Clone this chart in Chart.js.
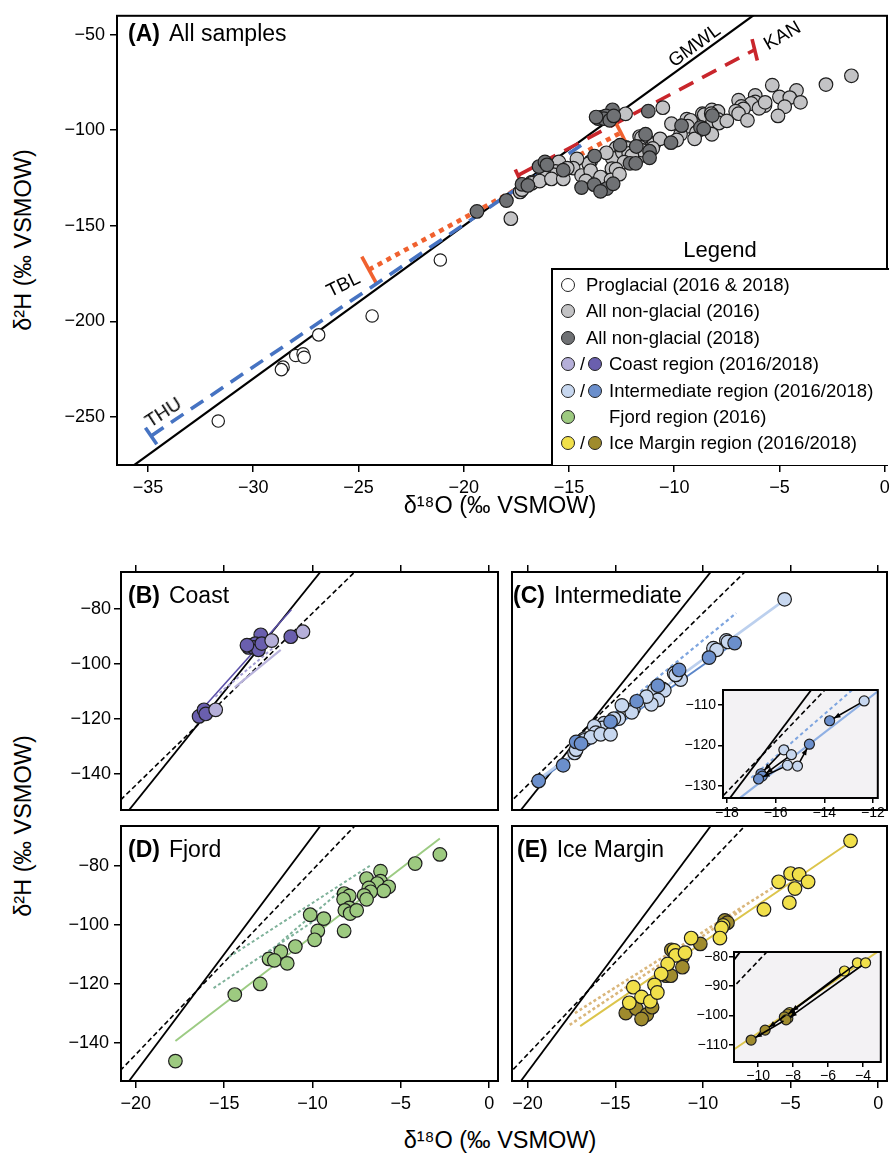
<!DOCTYPE html>
<html><head><meta charset="utf-8">
<script src="https://cdn.jsdelivr.net/npm/chart.js@4.4.1/dist/chart.umd.min.js"></script>
<style>
html,body{margin:0;padding:0;background:#fff;}
#wrap{position:relative;width:895px;height:1162px;overflow:hidden;font-family:"Liberation Sans",Arial,Helvetica,sans-serif;color:#000;}
.t{position:absolute;white-space:nowrap;line-height:1;z-index:10;}
.mk{position:absolute;width:14px;height:14px;border-radius:50%;border:1.3px solid #222;box-sizing:border-box;z-index:11;}
canvas{position:absolute;}
</style></head><body><div id="wrap"></div>
<script>
// ---------------- DATA ----------------
const proglacial = [[-31.66,-252.2],[-28.58,-224.0],[-28.66,-225.3],[-27.98,-217.9],[-27.63,-217.0],[-27.58,-218.8],[-26.89,-207.1],[-24.35,-197.2],[-21.11,-167.9]];

const coast2016 = [[-12.31,-91.4],[-10.54,-88.2],[-15.48,-116.6]];
const coast2018 = [[-12.93,-89.3],[-13.62,-93.9],[-13.43,-93.1],[-13.24,-92.5],[-13.34,-93.9],[-13.06,-94.8],[-12.87,-92.5],[-13.71,-93.1],[-16.42,-119.0],[-16.14,-116.6],[-16.04,-118.1],[-11.23,-90.0]];

const inter2016 = [[-5.34,-76.4],[-8.66,-91.35],[-8.57,-91.9],[-9.40,-94.2],[-9.22,-94.8],[-11.64,-103.3],[-11.27,-105.6],[-11.55,-103.9],[-12.76,-109.3],[-12.29,-109.0],[-12.20,-109.5],[-12.57,-113.0],[-12.94,-114.6],[-13.22,-111.8],[-13.97,-116.4],[-14.06,-117.5],[-14.62,-115.0],[-14.80,-119.8],[-15.08,-119.8],[-15.64,-121.5],[-15.74,-123.2],[-16.20,-122.6],[-16.11,-124.9],[-16.76,-127.1],[-17.32,-132.3],[-17.23,-131.1],[-16.76,-127.7],[-16.39,-126.6],[-15.83,-125.5],[-15.27,-125.5]];
const inter2018 = [[-8.19,-92.3],[-9.65,-97.6],[-11.36,-102.1],[-12.57,-107.8],[-13.78,-113.5],[-15.27,-120.9],[-17.23,-128.3],[-16.95,-128.9],[-17.97,-136.8],[-19.37,-142.5]];

const fjord2016 = [[-2.79,-76.1],[-4.19,-79.2],[-6.15,-81.8],[-6.94,-84.3],[-6.15,-85.2],[-6.34,-86.0],[-5.69,-87.1],[-5.97,-88.5],[-6.81,-87.5],[-6.71,-88.8],[-7.08,-90.0],[-6.94,-91.35],[-8.21,-89.4],[-7.92,-90.2],[-8.24,-91.35],[-7.92,-94.3],[-8.17,-95.1],[-7.87,-96.2],[-7.50,-95.1],[-8.21,-102.1],[-9.36,-97.9],[-10.13,-96.6],[-9.70,-102.1],[-9.88,-105.1],[-10.97,-107.4],[-11.79,-109.1],[-12.46,-111.6],[-12.16,-112.1],[-11.43,-113.1],[-12.96,-120.1],[-14.4,-123.7],[-17.76,-146.3]];

const ice2016 = [[-1.58,-71.5],[-5.0,-82.6],[-4.51,-82.9],[-4.0,-85.4],[-4.75,-87.7],[-5.68,-85.4],[-5.07,-92.5],[-6.52,-94.8],[-8.85,-100.2],[-8.94,-101.1],[-9.03,-104.5],[-10.67,-104.5],[-11.64,-108.7],[-11.55,-110.4],[-11.02,-109.5],[-12.01,-113.3],[-12.38,-116.7],[-13.97,-121.2],[-12.76,-120.4],[-13.5,-124.5],[-13.0,-126.0],[-12.6,-123.0],[-14.2,-126.5]];
const ice2018 = [[-8.75,-98.5],[-8.6,-99.3],[-10.15,-106.5],[-11.17,-111.0],[-11.8,-108.5],[-11.17,-114.4],[-12.1,-117.3],[-11.83,-117.3],[-14.4,-130.0],[-13.8,-128.5],[-13.2,-130.5],[-12.9,-128.0],[-13.5,-132.0]];

// insets: paired sites (2016 -> 2018)
const insetC2016 = [[-12.36,-109.0],[-15.66,-121.1],[-15.35,-122.3],[-15.51,-124.9],[-15.10,-125.1]];
const insetC2018 = [[-13.78,-113.9],[-16.60,-127.0],[-16.55,-127.6],[-16.70,-128.3],[-14.61,-119.7]];
const insetE2016 = [[-5.06,-84.8],[-4.32,-82.0],[-3.85,-82.0],[-8.2,-99.0],[-8.3,-101.0]];
const insetE2018 = [[-8.3,-99.5],[-8.5,-100.5],[-8.4,-101.5],[-9.6,-105.0],[-10.4,-108.4]];

// reference / regression lines (end points)
const gmwl = [[-40,-310],[2,26]];
const lmwl = [[-40,-269.2],[2,-6.3]];
const thuLine = [[-34.85,-260],[-14.3,-107]];
const thuCap = [[-35.12,-255.7],[-34.58,-264.3]];
const tblLine = [[-24.5,-173],[-12.5,-101]];
const tblCapL = [[-24.84,-166.1],[-24.16,-179.9]];
const tblCapR = [[-12.8,-95.5],[-12.3,-106.3]];
const kanLine = [[-17.4,-123.5],[-6.2,-58]];
const kanCapL = [[-17.55,-120.5],[-17.28,-127]];
const kanCapR = [[-6.3,-52.3],[-6.05,-63.5]];
const coastDark = [[-16.0,-114.6],[-11.2,-80.2]];
const coastLight = [[-14.4,-108.4],[-11.8,-94.8]];
const coastDot = [[-15.5,-111.8],[-12.2,-93.9]];
const interLight = [[-19.4,-142],[-5.3,-76.4]];
const interDark = [[-19.4,-142.5],[-8.2,-92.3]];
const interDot = [[-17.0,-128],[-8.1,-81.4]];
const fjordLine = [[-17.76,-139.5],[-2.79,-70.7]];
const fjordDot1 = [[-14.74,-111.0],[-6.71,-79.8]];
const fjordDot2 = [[-12.68,-110.4],[-8.39,-88.3]];
const fjordDot3 = [[-15.6,-121.5],[-9.5,-97]];
const iceLine = [[-17.0,-134.4],[-1.58,-71.8]];
const iceDot1 = [[-17.3,-130],[-5.8,-86.6]];
const iceDot2 = [[-17.6,-134],[-7.8,-95]];

const xTicksA = 5, yTicksA = 50, xTicksB = 5, yTicksB = 20;

// ---------------- COLOURS ----------------
const C = {
  pro:'#ffffff', ng16:'#c3c3c5', ng18:'#6f7174',
  co16:'#b5afd9', co18:'#6a5fae', in16:'#c7d7ef', in18:'#6b8fcc',
  fj16:'#9dca80', ic16:'#f1e04a', ic18:'#9f8b2d',
  thu:'#4673c2', tbl:'#f0612f', kan:'#c9262c'
};

Chart.defaults.font.family = '"Liberation Sans", Arial, Helvetica, sans-serif';
Chart.defaults.color = '#000';
const fmt = v => (v < 0 ? '\u2212' + Math.abs(v) : String(v));
const xy = a => a.map(p => ({x:p[0], y:p[1]}));
const wrap = document.getElementById('wrap');

function pts(arr, fill, r, order){ return {data:xy(arr), backgroundColor:fill, borderColor:'#1e1e1e', borderWidth:1.2, pointRadius:r||6.8, pointHoverRadius:r||6.8, showLine:false, order:order||1}; }
function ln(arr, color, w, dash, order){ return {data:xy(arr), borderColor:color, borderWidth:w, borderDash:dash||[], showLine:true, pointRadius:0, pointHoverRadius:0, fill:false, clip:0, order:order||5, borderCapStyle:'butt'}; }

function mkFrame(bg, lw){ return {id:'frame',
  beforeDatasetsDraw(c){ if(!bg) return; const a=c.chartArea, x=c.ctx; x.save(); x.fillStyle=bg; x.fillRect(a.left,a.top,a.right-a.left,a.bottom-a.top); x.restore(); },
  afterDraw(c){ const a=c.chartArea, x=c.ctx; x.save(); x.strokeStyle='#000'; x.lineWidth=lw||2; x.strokeRect(a.left,a.top,a.right-a.left,a.bottom-a.top); x.restore(); } }; }

function mkArrows(from, to, r){ return {id:'arrows', afterDatasetsDraw(c){
  const ctx=c.ctx, X=c.scales.x, Y=c.scales.y; ctx.save(); ctx.strokeStyle='#000'; ctx.fillStyle='#000'; ctx.lineWidth=1.6;
  from.forEach((p,i)=>{ const q=to[i];
    const x1=X.getPixelForValue(p[0]), y1=Y.getPixelForValue(p[1]), x2=X.getPixelForValue(q[0]), y2=Y.getPixelForValue(q[1]);
    const a=Math.atan2(y2-y1,x2-x1), ex=x2-Math.cos(a)*r, ey=y2-Math.sin(a)*r, sx=x1+Math.cos(a)*r, sy=y1+Math.sin(a)*r;
    ctx.beginPath(); ctx.moveTo(sx,sy); ctx.lineTo(ex,ey); ctx.stroke();
    const h=7; ctx.beginPath(); ctx.moveTo(ex,ey); ctx.lineTo(ex-h*Math.cos(a-0.38),ey-h*Math.sin(a-0.38)); ctx.lineTo(ex-h*Math.cos(a+0.38),ey-h*Math.sin(a+0.38)); ctx.closePath(); ctx.fill();
  }); ctx.restore(); }}; }

function panel(o){
  const r=o.rect, m=o.m;
  const cv=document.createElement('canvas');
  const W=r.r-r.l+m.l+m.r, H=r.b-r.t+m.t+m.b;
  cv.width=W; cv.height=H; cv.style.left=(r.l-m.l)+'px'; cv.style.top=(r.t-m.t)+'px'; cv.style.width=W+'px'; cv.style.height=H+'px'; cv.style.zIndex=o.z||1;
  wrap.appendChild(cv);
  const fs=o.fs||18;
  const tk=(step)=>({stepSize:step, includeBounds:false, autoSkip:false, maxRotation:0, minRotation:0, padding:o.tpad||3, font:{size:fs}, color:'#000', callback:fmt});
  const grid={display:true, drawOnChartArea:false, drawTicks:true, tickLength:o.tl||7, color:'#000', lineWidth:1.5};
  const scales={
    x:{type:'linear', position:'bottom', min:o.x[0], max:o.x[1], display:!!o.xLab, ticks:tk(o.xs), grid:grid, border:{display:false}, afterFit:s=>{s.height=m.b;}},
    y:{type:'linear', position:'left', min:o.y[0], max:o.y[1], display:!!o.yLab, ticks:tk(o.ys), grid:grid, border:{display:false}, afterFit:s=>{s.width=m.l;}}
  };
  if(o.top){ scales.x2={type:'linear', position:'top', min:o.x[0], max:o.x[1], ticks:Object.assign(tk(o.xs),{display:false}), grid:grid, border:{display:false}, afterFit:s=>{s.height=m.t;}}; }
  const pad={left:o.yLab?0:m.l, right:m.r, top:o.top?0:m.t, bottom:o.xLab?0:m.b};
  return new Chart(cv,{type:'scatter', data:{datasets:o.ds},
    options:{responsive:false, animation:false, devicePixelRatio:1, events:[], layout:{padding:pad},
      plugins:{legend:{display:false}, tooltip:{enabled:false}}, scales:scales},
    plugins:[mkFrame(o.bg,o.lw)].concat(o.extra||[])});
}

// ---------------- PANEL A ----------------
const all2016 = [].concat(coast2016, inter2016, fjord2016, ice2016);
const all2018 = [].concat(coast2018, inter2018, ice2018);
panel({rect:{l:117,t:13,r:889,b:465}, m:{l:60,t:13,r:6,b:34}, x:[-36.47,0.11], y:[-275.2,-40.1], xs:xTicksA, ys:yTicksA, xLab:true, yLab:true, tpad:5,
  ds:[
    pts(proglacial, C.pro, 6.2, 1), pts(all2018, C.ng18, 6.8, 2), pts(all2016, C.ng16, 6.8, 3),
    ln(gmwl,'#000',2.2,[],6),
    ln(thuLine,C.thu,3.6,[15,9],5), ln(thuCap,C.thu,3.6,[],5),
    ln(tblLine,C.tbl,4.6,[5,5],5), ln(tblCapL,C.tbl,3.6,[],5), ln(tblCapR,C.tbl,3.6,[],5),
    ln(kanLine,C.kan,3.6,[16,10],5), ln(kanCapL,C.kan,3.6,[],5), ln(kanCapR,C.kan,3.6,[],5)
  ]});

// ---------------- PANELS B-E ----------------
const XL=[-20.84,0.5], XR=[-20.89,0.5], YB=[-153.06,-66.45];
const base=()=>[ln(gmwl,'#000',1.8,[],7), ln(lmwl,'#000',1.6,[5,3],7)];
panel({rect:{l:121,t:572,r:502,b:826}, m:{l:60,t:16,r:4,b:16}, x:XL, y:YB, xs:xTicksB, ys:yTicksB, yLab:true, top:true,
  ds:base().concat([ln(coastLight,'#b9b3dc',2.2,[],6), ln(coastDot,'#a39dd2',2,[3,2.5],6), ln(coastDark,'#5b50a8',1.6,[],6),
    pts(coast2018,C.co18,6.8,2), pts(coast2016,C.co16,6.8,1)])});
panel({rect:{l:506,t:572,r:889,b:826}, m:{l:6,t:16,r:6,b:16}, x:XR, y:YB, xs:xTicksB, ys:yTicksB, top:true,
  ds:base().concat([ln(interLight,'#bcd0ee',2.6,[],6), ln(interDot,'#7ea5df',2.2,[3.5,3],6), ln(interDark,'#5b86c9',2,[],6),
    pts(inter2016,C.in16,6.8,2), pts(inter2018,C.in18,6.8,1)])});
panel({rect:{l:121,t:826,r:502,b:1081}, m:{l:60,t:16,r:4,b:34}, x:XL, y:YB, xs:xTicksB, ys:yTicksB, xLab:true, yLab:true, tpad:5,
  ds:base().concat([ln(fjordLine,'#9ccb83',2,[],6), ln(fjordDot1,'#7fb29a',2,[3,2.5],6), ln(fjordDot2,'#7fb29a',2,[3,2.5],6), ln(fjordDot3,'#7fb29a',2,[3,2.5],6),
    pts(fjord2016,C.fj16,6.8,1)])});
panel({rect:{l:506,t:826,r:889,b:1081}, m:{l:6,t:16,r:6,b:34}, x:XR, y:YB, xs:xTicksB, ys:yTicksB, xLab:true, tpad:5,
  ds:base().concat([ln(iceLine,'#dcc54c',2,[],6), ln(iceDot1,'#dab77c',2.6,[3,2.5],6), ln(iceDot2,'#dab77c',2.6,[3,2.5],6),
    pts(ice2018,C.ic18,6.8,2), pts(ice2016,C.ic16,6.8,1)])});

// ---------------- INSETS ----------------
panel({rect:{l:723,t:690,r:883,b:798}, m:{l:40,t:12,r:4,b:22}, x:[-18.16,-11.8], y:[-133.0,-106.3], xs:2, ys:10, xLab:true, yLab:true, fs:14, tl:5, tpad:2, bg:'#f3f2f4', lw:2, z:3,
  ds:base().concat([ln(interLight,'#8fb0e3',2.2,[],6), ln(interDot,'#7ea5df',2,[3.5,3],6),
    pts(insetC2016,C.in16,5,2), pts(insetC2018,C.in18,5,1)]), extra:[mkArrows(insetC2016,insetC2018,5)]});
panel({rect:{l:734,t:952,r:883,b:1062}, m:{l:40,t:12,r:4,b:20}, x:[-11.38,-2.98], y:[-115.9,-78.3], xs:2, ys:10, xLab:true, yLab:true, fs:14, tl:5, tpad:1, bg:'#f3f2f4', lw:2, z:3,
  ds:base().concat([ln(iceLine,'#dcc54c',2,[],6),
    pts(insetE2016,C.ic16,5,2), pts(insetE2018,C.ic18,5,1)]), extra:[mkArrows(insetE2016,insetE2018,5)]});

// ---------------- TEXT ----------------
function txt(html,x,y,size,anchor,rot){
  const d=document.createElement('div'); d.className='t'; d.innerHTML=html;
  d.style.fontSize=size+'px'; d.style.left=x+'px'; d.style.top=y+'px';
  const tx=anchor==='c'?'-50%':anchor==='r'?'-100%':'0';
  d.style.transform=`translate(${tx},-50%) rotate(${rot||0}deg)`;
  wrap.appendChild(d); return d;
}
const lab=(l,n)=>`<b>${l}</b><span style="margin-left:9px">${n}</span>`;
txt(lab('(A)','All samples'),128,33,23,'l');
txt(lab('(B)','Coast'),128,595,23,'l');
txt(lab('(C)','Intermediate'),513,595,23,'l');
txt(lab('(D)','Fjord'),128,849,23,'l');
txt(lab('(E)','Ice Margin'),517,849,23,'l');
txt('GMWL',694,45,19,'c',-36);
txt('KAN',782,35,19,'c',-30);
txt('TBL',343,284,19,'c',-26);
txt('THU',163,412,19,'c',-33);
txt('\u03b4\u00b9\u2078O (\u2030 VSMOW)',500,506,23.5,'c');
txt('\u03b4\u00b9\u2078O (\u2030 VSMOW)',500,1141,23.5,'c');
txt('\u03b4\u00b2H (\u2030 VSMOW)',24,240,23.5,'c',-90);
txt('\u03b4\u00b2H (\u2030 VSMOW)',24,826,23.5,'c',-90);

// legend
const lg=document.createElement('div');
lg.style.cssText='position:absolute;left:551px;top:268px;width:336px;height:195px;border-left:2px solid #000;border-top:2px solid #000;background:#fff;z-index:9;';
wrap.appendChild(lg);
txt('Legend',720,250,22,'c');
const legRows=[
  {m:[C.pro],t:'Proglacial (2016 &amp; 2018)'},
  {m:[C.ng16],t:'All non-glacial (2016)'},
  {m:[C.ng18],t:'All non-glacial (2018)'},
  {m:[C.co16,C.co18],t:'Coast region (2016/2018)'},
  {m:[C.in16,C.in18],t:'Intermediate region (2016/2018)'},
  {m:[C.fj16],t:'Fjord region (2016)', wide:true},
  {m:[C.ic16,C.ic18],t:'Ice Margin region (2016/2018)'}
];
legRows.forEach((r,i)=>{
  const y=285+i*26.4;
  const m1=document.createElement('div'); m1.className='mk'; m1.style.left=(568-7)+'px'; m1.style.top=(y-7)+'px'; m1.style.background=r.m[0]; wrap.appendChild(m1);
  let tx=586;
  if(r.m.length>1){
    txt('/',582.5,y,18,'c');
    const m2=document.createElement('div'); m2.className='mk'; m2.style.left=(595-7)+'px'; m2.style.top=(y-7)+'px'; m2.style.background=r.m[1]; wrap.appendChild(m2);
    tx=609;
  }
  if(r.wide) tx=609;
  txt(r.t,tx,y,18.5,'l');
});
</script></body></html>
